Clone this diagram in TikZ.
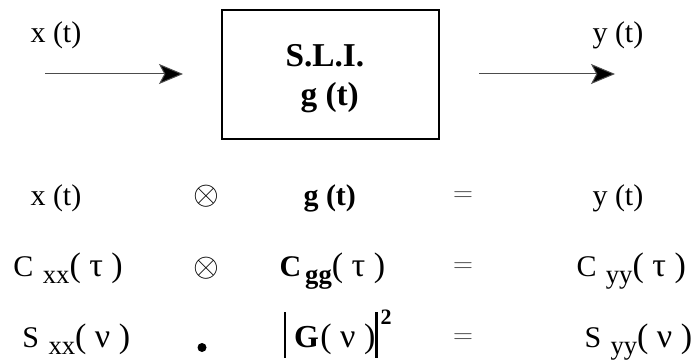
\documentclass[tikz,border=0pt]{standalone}
\usepackage{fontspec}
\setmainfont{Liberation Serif}
\usetikzlibrary{arrows.meta}

\newcommand{\lowsub}[1]{\raisebox{-5.25pt}{\fontsize{20}{20}\selectfont #1}}
\newcommand{\argof}[1]{{\fontsize{25.5}{27}\selectfont( #1 )}}
\newcommand{\absbar}{\rule[-8pt]{2pt}{34.5pt}}

\tikzset{every picture/.style={line width=0.75pt},
  txt/.style={font=\fontsize{22.5}{27}\selectfont, inner sep=0pt, anchor=base west},
  btxt/.style={txt, font=\fontsize{22.5}{27}\selectfont\bfseries},
  boxtxt/.style={txt, font=\fontsize{25}{30}\selectfont\bfseries},
  conv/.style={font=\fontsize{25}{25}\selectfont, inner sep=0pt},
  eqsign/.style={font=\fontsize{21}{21}\selectfont, inner sep=0pt, text=black!70},
  sig/.style={draw=black!70, -{Stealth[length=18pt,width=15pt,inset=4pt,fill=black]}}}

\begin{document}
\begin{tikzpicture}[x=0.75pt,y=0.75pt,yscale=-1,xscale=1]
\path[use as bounding box] (0,0) rectangle (693,360);

%Shape: Rectangle [id:sli]
\node[draw, line width=2pt, minimum width=162.75pt, minimum height=96.75pt] (sli) at (330.5,74.5) {};
% Text Node
\node[boxtxt] (slititle) at (285,67) {S.L.I.};
% Text Node
\node[boxtxt] (slig) at (300,106) {g (t)};

% Text Node
\node[txt] (xtop) at (30,43) {x (t)};
% Text Node
\node[txt] (ytop) at (592,43) {y (t)};

%Straight Lines [id:xin]
\coordinate (xin) at (45,74);
\coordinate (xinend) at (183,74);
\draw[sig] (xin) -- (xinend);
%Straight Lines [id:yout]
\coordinate (yout) at (479,74);
\coordinate (youtend) at (615,74);
\draw[sig] (yout) -- (youtend);

% Text Node
\node[txt] (xrow) at (30,205) {x (t)};
\node[conv] (opa) at (206,196) {$\otimes$};
\node[btxt] (grow) at (303,205) {g (t)};
\node[eqsign] (eqa) at (463,197) {$=$};
\node[txt] (yrow) at (592,205) {y (t)};

% Text Node
\node[txt] (cxx) at (13,276) {C\hspace{7pt}\lowsub{xx}\argof{τ}};
\node[conv] (opb) at (206,268) {$\otimes$};
\node[txt] (cgg) at (279,276) {\textbf{C\hspace{3pt}\lowsub{gg}}\argof{τ}};
\node[eqsign] (eqb) at (463,268) {$=$};
\node[txt] (cyy) at (576,276) {C\hspace{7pt}\lowsub{yy}\argof{τ}};

% Text Node
\node[txt] (sxx) at (22,347) {S\hspace{7pt}\lowsub{xx}\argof{ν}};
\node[circle, fill, inner sep=0pt, minimum size=6.75pt] (dot) at (202,347.5) {};
\node[txt] (gsq) at (283,347) {\absbar\hspace{6pt}{\fontsize{24}{27}\selectfont\bfseries G}\hspace{1pt}\argof{ν}\absbar\hspace{2pt}\raisebox{17pt}{\fontsize{16.5}{16.5}\selectfont\bfseries 2}};
\node[eqsign] (eqc) at (463,339) {$=$};
\node[txt] (syy) at (584,347) {S\hspace{7pt}\lowsub{yy}\argof{ν}};

\end{tikzpicture}
\end{document}
